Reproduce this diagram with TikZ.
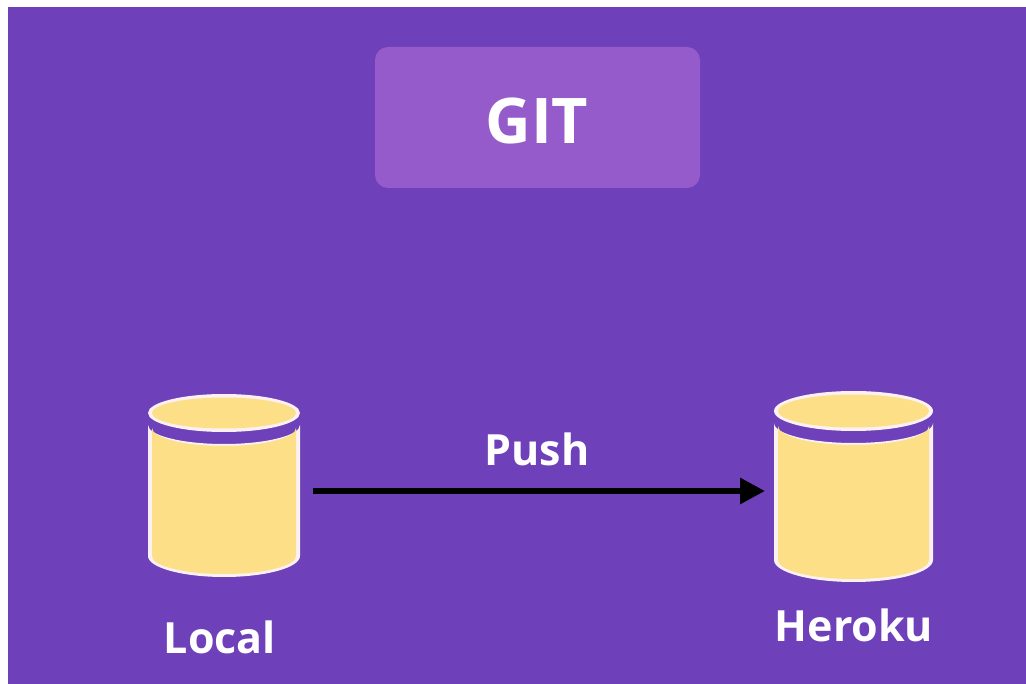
\documentclass[tikz,border=0pt]{standalone}
\usepackage{fontspec}
\setmainfont{Open Sans}
\usetikzlibrary{arrows.meta}
\definecolor{bgpurple}{HTML}{6E40B9}
\definecolor{boxpurple}{HTML}{955BCB}
\definecolor{dbyellow}{HTML}{FCDF87}
\definecolor{dbedge}{HTML}{FBF0F2}
\tikzset{
  lbl/.style={text=white,font=\fontsize{43}{43}\selectfont\bfseries,inner sep=0pt,anchor=base},
  dbslot/.style={minimum width=150pt,minimum height=180pt,inner sep=0pt,outer sep=0pt},
  pusharrow/.style={line width=6pt,black,-{Triangle[length=25pt,width=25pt]}}
}
\newcommand{\dbcyl}[6]{% cx, top centre y, rx, ry, side bottom y, body top y
  \fill[dbedge] (#1-#3,#6) -- (#1-#3,#5) arc[start angle=180,end angle=0,x radius=#3,y radius=#4+2] -- (#1+#3,#6) arc[start angle=0,end angle=180,x radius=#3,y radius=#4] -- cycle;
  \fill[dbyellow] (#1-#3+4,#6+3) -- (#1-#3+4,#5) arc[start angle=180,end angle=0,x radius=#3-4,y radius=#4-1] -- (#1+#3-4,#6+3) arc[start angle=0,end angle=180,x radius=#3-4,y radius=#4-1] -- cycle;
  \fill[dbedge] (#1,#2) ellipse[x radius=#3,y radius=#4];
  \fill[dbyellow] (#1,#2) ellipse[x radius=#3-4,y radius=#4-3.5];
}
\begin{document}
\begin{tikzpicture}[x=1pt,y=-1pt]
\useasboundingbox (0,0) rectangle (1026,684);
\fill[white] (0,0) rectangle (1026,684);
\fill[bgpurple] (8,7) rectangle (1026,684);
\node[fill=boxpurple,rounded corners=13pt,minimum width=325pt,minimum height=141pt,inner sep=0pt] (gitbox) at (537.5,117.5) {};
\node[lbl,font=\fontsize{63}{63}\selectfont\bfseries] (git) at (537,144) {GIT};
% Local cylinder
\dbcyl{224}{413}{76}{19}{556}{425}
\node[dbslot] (local) at (224,491) {};
\node[lbl] (locallabel) at (220,653) {Local};
% Heroku cylinder
\dbcyl{853.5}{411}{79.5}{20}{560}{423}
\node[dbslot] (heroku) at (853.5,491) {};
\node[lbl] (herokulabel) at (854,641) {Heroku};
% Connector
\node[lbl] (push) at (537,466) {Push};
\draw[pusharrow,shorten <=14pt,shorten >=13.5pt] (local.east) -- (heroku.west);
\end{tikzpicture}
\end{document}
